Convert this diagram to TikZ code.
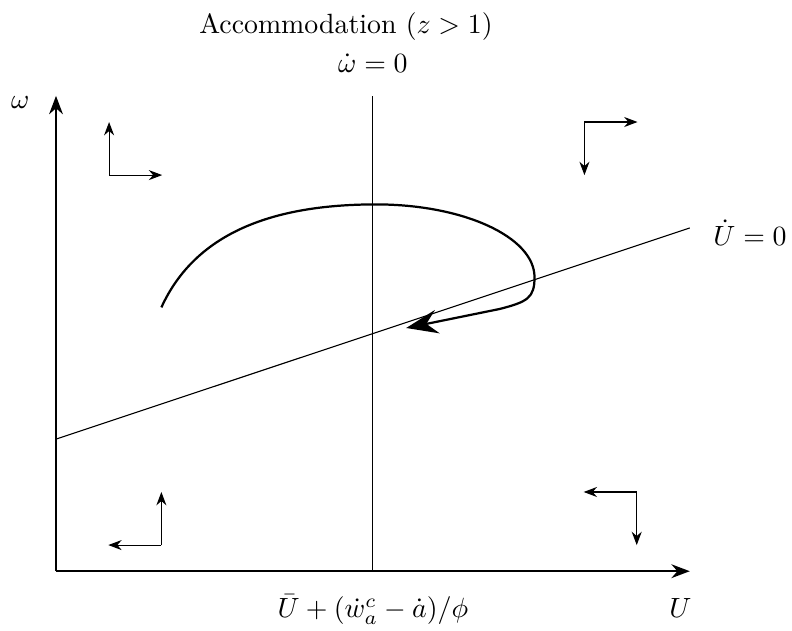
\documentclass[tikz,border=0pt]{standalone}
\usepackage{amsmath}
\usepackage{amssymb}
\usetikzlibrary{arrows.meta}

\begin{document}
\begin{tikzpicture}[>=Stealth,
        axis/.style={thick,->},
        flow/.style={->},
        lbl/.style={inner sep=1pt},
        path/.style={thick,-{Stealth[length=4mm,width=3mm,inset=1.4mm]}}]
        \useasboundingbox (-0.707,-0.745) rectangle (9.29,7.21);
        % Axes
            \coordinate (o) at (0,0);
            \coordinate (xend) at (8,0);
            \coordinate (yend) at (0,6);
            \draw[axis] (o) -- (xend);
            \draw[axis] (o) -- (yend);
            \node[lbl] (ylab) at (-0.45,5.92) {$\omega$};
            \node[lbl] (xlab) at (7.88,-0.47) {$U$};
        % Nullclines
            \coordinate (wbot) at (4,0);
            \coordinate (wtop) at (4,6);
            \draw (wbot) -- (wtop);
            \node[lbl] (wdot) at (4,6.41) {$\dot{\omega}=0$};
            \node[lbl] (title) at (3.66,6.88) {Accommodation $(z>1)$};
            \node[lbl] (ubar) at (4,-0.49) {$\bar{U}+(\dot{w}_a^c-\dot{a})/\phi$};
            \coordinate (uleft) at (0,1.667);
            \coordinate (uright) at (8,4.333);
            \draw (uleft) -- (uright);
            \node[lbl] (udot) at (8.76,4.27) {$\dot{U}=0$};
        % Direction arrows
            % Top left
                \coordinate (tl) at (0.67,5);
                \draw[flow] (tl) -- ++(0,0.67);
                \draw[flow] (tl) -- ++(0.67,0);
            % Top right
                \coordinate (tr) at (6.67,5.67);
                \draw[flow] (tr) -- ++(0,-0.67);
                \draw[flow] (tr) -- ++(0.67,0);
            % Bottom left
                \coordinate (bl) at (1.33,0.33);
                \draw[flow] (bl) -- ++(0,0.67);
                \draw[flow] (bl) -- ++(-0.67,0);
            % Bottom right
                \coordinate (br) at (7.33,1);
                \draw[flow] (br) -- ++(0,-0.67);
                \draw[flow] (br) -- ++(-0.67,0);
        % Trajectory
            \coordinate (start) at (1.33,3.33);
            \coordinate (peak) at (4.04,4.63);
            \coordinate (turn) at (6.04,3.71);
            \coordinate (bend) at (5.6,3.31);
            \coordinate (finish) at (4.42,3.07);
            \draw[path] (start) .. controls (1.75,4.25) and (2.7,4.63) .. (peak)
                .. controls (5.14,4.63) and (6.04,4.22) .. (turn)
                .. controls (6.04,3.45) and (5.95,3.4) .. (bend) -- (finish);
\end{tikzpicture}
\end{document}
